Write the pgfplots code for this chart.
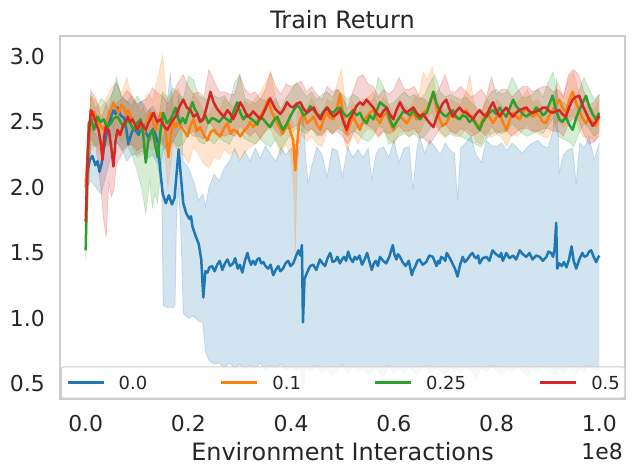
\documentclass[border=0pt]{standalone}
\usepackage{pgfplots}
\pgfplotsset{compat=1.18}
\usepackage{pgfplotstable}
\usepgfplotslibrary{fillbetween}
\usepackage{fontspec}
\setmainfont{DejaVu Sans}
\definecolor{c0}{HTML}{1F77B4}
\definecolor{c1}{HTML}{FF7F0E}
\definecolor{c2}{HTML}{2CA02C}
\definecolor{c3}{HTML}{D62728}
\definecolor{txt}{HTML}{262626}
\definecolor{frame}{HTML}{CCCCCC}

\pgfplotstableread{
x y
0 2.05
0.008 2.21
0.013 2.24
0.019 2.17
0.023 2.20
0.027 2.12
0.031 2.18
0.035 2.29
0.043 2.46
0.048 2.52
0.054 2.59
0.058 2.56
0.062 2.61
0.068 2.55
0.075 2.53
0.079 2.45
0.083 2.33
0.088 2.40
0.093 2.45
0.098 2.43
0.103 2.40
0.108 2.46
0.113 2.48
0.117 2.42
0.122 2.38
0.127 2.42
0.132 2.45
0.136 2.40
0.140 2.35
0.146 2.10
0.150 1.95
0.156 1.88
0.162 1.94
0.168 1.87
0.173 1.92
0.178 2.15
0.181 2.29
0.185 2.10
0.190 1.88
0.196 1.80
0.202 1.76
0.205 1.78
0.208 1.70
0.214 1.63
0.220 1.57
0.225 1.45
0.229 1.16
0.233 1.36
0.237 1.35
0.241 1.39
0.246 1.40
0.251 1.36
0.256 1.41
0.261 1.44
0.266 1.37
0.271 1.42
0.276 1.45
0.281 1.40
0.287 1.42
0.291 1.46
0.296 1.38
0.300 1.41
0.305 1.35
0.310 1.44
0.315 1.50
0.318 1.45
0.322 1.41
0.326 1.44
0.330 1.41
0.334 1.45
0.338 1.46
0.342 1.42
0.346 1.43
0.350 1.40
0.355 1.38
0.360 1.41
0.365 1.33
0.370 1.37
0.375 1.40
0.379 1.36
0.384 1.38
0.389 1.42
0.394 1.44
0.399 1.40
0.404 1.42
0.409 1.47
0.414 1.52
0.418 1.48
0.421 1.56
0.423 0.97
0.426 1.30
0.431 1.35
0.437 1.40
0.443 1.41
0.449 1.37
0.456 1.45
0.461 1.42
0.466 1.40
0.471 1.46
0.476 1.50
0.481 1.43
0.486 1.44
0.490 1.47
0.495 1.42
0.499 1.45
0.503 1.47
0.507 1.44
0.511 1.51
0.515 1.46
0.520 1.43
0.524 1.47
0.528 1.45
0.533 1.48
0.538 1.41
0.543 1.45
0.548 1.50
0.552 1.44
0.557 1.37
0.561 1.42
0.565 1.44
0.569 1.40
0.573 1.47
0.579 1.44
0.585 1.42
0.591 1.47
0.598 1.56
0.601 1.49
0.605 1.45
0.608 1.49
0.612 1.47
0.617 1.43
0.623 1.40
0.629 1.44
0.635 1.33
0.638 1.37
0.642 1.40
0.646 1.44
0.650 1.45
0.656 1.41
0.663 1.43
0.669 1.48
0.676 1.47
0.680 1.43
0.683 1.40
0.686 1.44
0.689 1.42
0.692 1.47
0.696 1.46
0.700 1.44
0.703 1.50
0.709 1.46
0.714 1.42
0.719 1.38
0.724 1.32
0.729 1.41
0.734 1.47
0.738 1.43
0.743 1.45
0.748 1.48
0.753 1.50
0.757 1.47
0.760 1.46
0.764 1.48
0.767 1.42
0.773 1.46
0.780 1.47
0.786 1.44
0.792 1.52
0.799 1.49
0.806 1.47
0.809 1.50
0.812 1.44
0.816 1.47
0.819 1.50
0.825 1.46
0.832 1.48
0.838 1.45
0.845 1.52
0.851 1.49
0.858 1.47
0.864 1.50
0.870 1.45
0.877 1.48
0.884 1.47
0.890 1.44
0.897 1.47
0.901 1.51
0.906 1.50
0.910 1.47
0.913 1.53
0.916 1.73
0.918 1.38
0.922 1.42
0.927 1.40
0.931 1.43
0.936 1.39
0.941 1.45
0.946 1.55
0.950 1.44
0.955 1.38
0.961 1.45
0.967 1.50
0.971 1.47
0.976 1.48
0.980 1.51
0.984 1.52
0.989 1.47
0.994 1.43
0.997 1.46
1.000 1.48
}\meanA

\pgfplotstableread{
x lo hi
0 1.98 2.12
0.01 2.05 2.45
0.02 2.00 2.40
0.03 1.95 2.35
0.04 2.10 2.50
0.05 2.25 2.70
0.06 2.35 2.80
0.07 2.30 2.70
0.08 2.20 2.65
0.09 2.25 2.70
0.10 2.25 2.62
0.11 2.28 2.66
0.12 2.22 2.58
0.13 2.25 2.62
0.14 2.18 2.56
0.148 2.00 2.40
0.151 1.10 2.35
0.16 1.08 2.70
0.165 1.09 2.87
0.17 1.08 2.60
0.174 1.10 2.45
0.177 1.80 2.50
0.181 2.00 2.70
0.186 1.60 2.45
0.19 1.04 2.20
0.20 1.00 2.15
0.21 1.02 2.05
0.22 0.98 1.90
0.228 0.97 1.95
0.233 0.75 1.85
0.24 0.68 2.00
0.25 0.65 2.10
0.26 0.66 2.05
0.27 0.62 2.15
0.28 0.66 2.20
0.29 0.62 2.30
0.30 0.65 2.20
0.31 0.61 2.28
0.32 0.64 2.20
0.33 0.62 2.30
0.34 0.66 2.22
0.35 0.60 2.32
0.36 0.64 2.25
0.37 0.62 2.20
0.38 0.65 2.30
0.39 0.61 2.25
0.40 0.63 2.30
0.41 0.60 2.20
0.418 0.62 2.34
0.423 0.45 2.60
0.428 0.62 2.25
0.433 0.60 2.03
0.44 0.60 2.16
0.45 0.64 2.31
0.46 0.58 2.25
0.47 0.62 2.08
0.48 0.56 2.30
0.49 0.61 2.28
0.50 0.65 2.08
0.51 0.58 2.31
0.52 0.63 2.23
0.53 0.59 2.29
0.54 0.62 2.23
0.55 0.57 2.30
0.557 0.60 2.06
0.565 0.63 2.25
0.57 0.60 2.29
0.58 0.55 2.31
0.59 0.64 2.23
0.60 0.58 2.36
0.61 0.62 2.19
0.62 0.59 2.30
0.63 0.63 2.31
0.637 0.60 1.98
0.645 0.57 2.30
0.65 0.61 2.39
0.66 0.64 2.26
0.67 0.58 2.36
0.68 0.62 2.31
0.69 0.60 2.25
0.70 0.56 2.34
0.71 0.63 2.28
0.718 0.59 2.26
0.724 0.62 1.90
0.73 0.58 2.30
0.74 0.63 2.34
0.75 0.60 2.39
0.76 0.55 2.25
0.77 0.62 2.19
0.78 0.59 2.36
0.79 0.64 2.32
0.80 0.60 2.31
0.81 0.57 2.34
0.82 0.62 2.28
0.83 0.59 2.34
0.84 0.63 2.30
0.85 0.60 2.26
0.86 0.56 2.31
0.87 0.62 2.34
0.88 0.58 2.36
0.89 0.63 2.32
0.90 0.60 2.30
0.91 0.58 2.44
0.917 0.58 2.84
0.922 0.62 2.11
0.93 0.58 2.25
0.94 0.63 2.29
0.948 0.60 2.30
0.955 0.57 2.03
0.962 0.62 2.34
0.97 0.59 2.30
0.98 0.64 2.39
0.99 0.60 2.21
1.00 0.60 2.34
}\bandA

\pgfplotstableread{
x y
0 2.00
0.005 2.35
0.010 2.49
0.016 2.58
0.023 2.52
0.029 2.47
0.035 2.44
0.042 2.52
0.049 2.59
0.054 2.65
0.059 2.60
0.064 2.57
0.069 2.63
0.074 2.61
0.079 2.55
0.083 2.59
0.087 2.55
0.091 2.52
0.096 2.48
0.101 2.44
0.107 2.47
0.113 2.41
0.119 2.50
0.126 2.57
0.131 2.50
0.136 2.44
0.141 2.51
0.146 2.57
0.150 2.50
0.155 2.44
0.158 2.35
0.161 2.23
0.166 2.40
0.171 2.52
0.175 2.46
0.180 2.49
0.185 2.47
0.190 2.44
0.194 2.42
0.198 2.39
0.204 2.47
0.210 2.52
0.216 2.43
0.223 2.46
0.230 2.40
0.237 2.36
0.243 2.42
0.249 2.44
0.255 2.41
0.262 2.39
0.269 2.45
0.276 2.49
0.282 2.41
0.287 2.44
0.294 2.43
0.301 2.39
0.308 2.43
0.315 2.46
0.320 2.50
0.326 2.46
0.333 2.50
0.340 2.54
0.348 2.60
0.355 2.67
0.362 2.58
0.369 2.52
0.376 2.47
0.383 2.41
0.389 2.45
0.394 2.49
0.399 2.42
0.404 2.36
0.408 2.13
0.412 2.34
0.415 2.47
0.418 2.52
0.424 2.56
0.431 2.49
0.437 2.51
0.444 2.54
0.450 2.48
0.457 2.44
0.463 2.52
0.470 2.57
0.476 2.53
0.482 2.52
0.489 2.60
0.495 2.71
0.501 2.56
0.508 2.41
0.514 2.48
0.521 2.54
0.527 2.49
0.534 2.44
0.540 2.50
0.547 2.54
0.553 2.57
0.560 2.59
0.566 2.53
0.573 2.49
0.579 2.55
0.586 2.57
0.592 2.50
0.599 2.44
0.605 2.50
0.612 2.54
0.618 2.52
0.625 2.49
0.631 2.53
0.638 2.57
0.644 2.52
0.651 2.54
0.657 2.57
0.664 2.59
0.670 2.65
0.677 2.73
0.683 2.60
0.689 2.52
0.695 2.47
0.702 2.49
0.708 2.54
0.715 2.57
0.721 2.53
0.728 2.52
0.734 2.56
0.741 2.59
0.747 2.55
0.754 2.54
0.760 2.49
0.767 2.46
0.773 2.52
0.780 2.57
0.786 2.54
0.793 2.49
0.799 2.53
0.806 2.57
0.812 2.50
0.819 2.44
0.825 2.51
0.832 2.57
0.838 2.54
0.845 2.52
0.851 2.57
0.858 2.61
0.864 2.56
0.871 2.54
0.877 2.57
0.884 2.54
0.890 2.50
0.896 2.49
0.903 2.55
0.909 2.59
0.915 2.63
0.922 2.67
0.928 2.61
0.935 2.57
0.941 2.66
0.948 2.73
0.954 2.65
0.961 2.59
0.967 2.53
0.974 2.49
0.980 2.53
0.987 2.50
0.993 2.47
1.000 2.54
}\meanB

\pgfplotstableread{
x lo hi
0 1.95 2.05
0.01 2.28 2.70
0.02 2.33 2.66
0.03 2.24 2.60
0.04 2.31 2.68
0.05 2.38 2.76
0.06 2.41 2.80
0.07 2.35 2.72
0.08 2.38 2.84
0.09 2.31 2.68
0.10 2.23 2.63
0.11 2.25 2.58
0.12 2.33 2.72
0.13 2.28 2.66
0.14 2.33 2.83
0.145 2.38 2.92
0.15 2.33 3.01
0.155 2.23 2.78
0.16 2.00 2.60
0.17 2.33 2.70
0.18 2.28 2.76
0.19 2.25 2.64
0.20 2.18 2.60
0.21 2.31 2.72
0.22 2.25 2.66
0.23 2.18 2.58
0.24 2.15 2.56
0.25 2.23 2.64
0.26 2.21 2.58
0.27 2.29 2.68
0.28 2.25 2.64
0.29 2.28 2.60
0.30 2.21 2.56
0.31 2.27 2.66
0.32 2.31 2.63
0.33 2.33 2.68
0.34 2.38 2.72
0.35 2.43 2.80
0.36 2.45 2.88
0.37 2.35 2.68
0.38 2.25 2.58
0.39 2.33 2.64
0.40 2.23 2.53
0.405 2.00 2.45
0.408 1.50 2.40
0.411 2.05 2.50
0.415 2.33 2.66
0.42 2.41 2.65
0.43 2.35 2.59
0.44 2.39 2.69
0.45 2.33 2.61
0.46 2.31 2.55
0.47 2.43 2.67
0.48 2.41 2.65
0.49 2.45 2.80
0.498 2.48 2.90
0.505 2.33 2.67
0.51 2.28 2.53
0.52 2.41 2.65
0.53 2.33 2.57
0.54 2.41 2.67
0.55 2.45 2.69
0.56 2.43 2.73
0.57 2.38 2.61
0.58 2.43 2.69
0.59 2.37 2.63
0.60 2.33 2.55
0.61 2.41 2.67
0.62 2.43 2.63
0.63 2.38 2.59
0.64 2.43 2.69
0.65 2.41 2.72
0.657 2.48 2.88
0.665 2.53 2.82
0.675 2.58 2.92
0.68 2.48 2.75
0.69 2.41 2.63
0.70 2.38 2.59
0.71 2.43 2.67
0.72 2.41 2.65
0.73 2.39 2.63
0.74 2.45 2.73
0.748 2.43 2.85
0.755 2.41 2.67
0.76 2.35 2.59
0.77 2.33 2.57
0.78 2.43 2.69
0.79 2.38 2.61
0.80 2.41 2.67
0.81 2.38 2.63
0.82 2.31 2.55
0.83 2.41 2.67
0.84 2.39 2.65
0.85 2.43 2.69
0.86 2.48 2.75
0.87 2.43 2.65
0.88 2.41 2.67
0.89 2.39 2.61
0.90 2.38 2.63
0.91 2.45 2.71
0.92 2.51 2.80
0.93 2.45 2.69
0.94 2.53 2.83
0.95 2.55 2.88
0.96 2.45 2.72
0.97 2.38 2.61
0.98 2.39 2.63
0.99 2.35 2.59
1.00 2.41 2.67
}\bandB

\pgfplotstableread{
x y
0 1.52
0.003 2.10
0.006 2.49
0.011 2.52
0.016 2.44
0.020 2.49
0.023 2.54
0.029 2.50
0.035 2.52
0.042 2.46
0.049 2.49
0.055 2.53
0.062 2.54
0.068 2.50
0.074 2.46
0.079 2.50
0.083 2.52
0.088 2.48
0.093 2.44
0.100 2.49
0.107 2.52
0.112 2.40
0.117 2.19
0.122 2.36
0.126 2.41
0.130 2.44
0.135 2.33
0.140 2.23
0.146 2.44
0.151 2.57
0.158 2.49
0.165 2.52
0.170 2.56
0.175 2.61
0.180 2.53
0.184 2.49
0.189 2.53
0.194 2.49
0.201 2.58
0.208 2.65
0.212 2.60
0.217 2.57
0.222 2.51
0.227 2.52
0.233 2.55
0.239 2.49
0.246 2.53
0.252 2.52
0.260 2.50
0.268 2.54
0.275 2.52
0.282 2.50
0.288 2.58
0.295 2.65
0.301 2.57
0.307 2.52
0.314 2.56
0.320 2.53
0.327 2.51
0.334 2.48
0.340 2.54
0.346 2.52
0.352 2.49
0.359 2.46
0.366 2.51
0.373 2.54
0.378 2.49
0.384 2.44
0.391 2.48
0.398 2.54
0.405 2.59
0.412 2.63
0.418 2.60
0.424 2.55
0.431 2.57
0.437 2.62
0.444 2.59
0.450 2.56
0.457 2.54
0.463 2.58
0.470 2.61
0.476 2.58
0.482 2.57
0.489 2.60
0.495 2.61
0.501 2.57
0.508 2.54
0.514 2.56
0.521 2.59
0.527 2.55
0.534 2.57
0.540 2.52
0.547 2.49
0.553 2.55
0.560 2.52
0.566 2.58
0.573 2.65
0.579 2.63
0.586 2.61
0.592 2.52
0.599 2.46
0.605 2.50
0.612 2.54
0.618 2.58
0.625 2.57
0.631 2.55
0.638 2.59
0.644 2.55
0.651 2.52
0.657 2.55
0.664 2.57
0.670 2.64
0.677 2.73
0.683 2.64
0.689 2.59
0.695 2.56
0.702 2.54
0.708 2.57
0.715 2.59
0.721 2.54
0.728 2.52
0.734 2.55
0.741 2.54
0.747 2.50
0.754 2.52
0.760 2.48
0.767 2.44
0.773 2.50
0.780 2.54
0.786 2.57
0.793 2.59
0.799 2.56
0.806 2.61
0.812 2.57
0.819 2.54
0.825 2.60
0.832 2.67
0.838 2.62
0.845 2.59
0.851 2.56
0.858 2.54
0.864 2.56
0.871 2.57
0.877 2.61
0.884 2.59
0.890 2.55
0.896 2.57
0.903 2.64
0.909 2.70
0.915 2.60
0.922 2.52
0.928 2.50
0.935 2.54
0.941 2.48
0.948 2.44
0.954 2.52
0.961 2.59
0.967 2.64
0.974 2.70
0.980 2.62
0.987 2.56
0.993 2.52
1.000 2.57
}\meanC

\pgfplotstableread{
x lo hi
0 1.45 1.60
0.01 2.33 2.70
0.02 2.31 2.60
0.03 2.35 2.68
0.04 2.33 2.64
0.05 2.31 2.70
0.06 2.35 2.84
0.07 2.28 2.68
0.08 2.33 2.66
0.09 2.25 2.62
0.10 2.13 2.70
0.11 1.98 2.64
0.117 1.80 2.55
0.125 2.05 2.60
0.13 1.85 2.56
0.135 1.95 2.53
0.14 1.88 2.48
0.15 2.28 2.73
0.16 2.33 2.68
0.17 2.35 2.76
0.18 2.31 2.72
0.19 2.33 2.68
0.20 2.41 2.85
0.21 2.43 2.82
0.22 2.35 2.70
0.23 2.33 2.68
0.24 2.37 2.66
0.25 2.33 2.70
0.26 2.38 2.68
0.27 2.35 2.70
0.28 2.33 2.64
0.29 2.41 2.80
0.30 2.43 2.86
0.31 2.37 2.68
0.32 2.35 2.66
0.33 2.33 2.64
0.34 2.37 2.68
0.35 2.33 2.66
0.36 2.31 2.62
0.37 2.37 2.68
0.38 2.29 2.60
0.39 2.35 2.68
0.40 2.41 2.74
0.41 2.45 2.80
0.42 2.43 2.75
0.43 2.41 2.69
0.44 2.45 2.73
0.45 2.39 2.67
0.46 2.41 2.71
0.47 2.45 2.73
0.48 2.41 2.69
0.49 2.45 2.75
0.50 2.43 2.71
0.51 2.39 2.67
0.52 2.43 2.71
0.53 2.41 2.69
0.54 2.37 2.63
0.55 2.35 2.65
0.56 2.39 2.67
0.57 2.47 2.84
0.58 2.45 2.77
0.59 2.33 2.63
0.60 2.35 2.65
0.61 2.39 2.69
0.62 2.41 2.73
0.63 2.39 2.69
0.64 2.41 2.71
0.65 2.37 2.67
0.66 2.39 2.71
0.67 2.45 2.80
0.68 2.51 2.86
0.69 2.43 2.73
0.70 2.39 2.69
0.71 2.41 2.71
0.72 2.39 2.69
0.73 2.39 2.67
0.74 2.37 2.69
0.75 2.35 2.65
0.76 2.33 2.61
0.77 2.31 2.57
0.78 2.37 2.67
0.79 2.41 2.73
0.80 2.43 2.75
0.81 2.41 2.71
0.82 2.43 2.73
0.83 2.49 2.84
0.84 2.45 2.77
0.85 2.41 2.69
0.86 2.39 2.69
0.87 2.41 2.71
0.88 2.43 2.75
0.89 2.41 2.69
0.90 2.47 2.80
0.91 2.53 2.88
0.92 2.39 2.67
0.93 2.37 2.65
0.94 2.35 2.61
0.95 2.31 2.59
0.96 2.41 2.73
0.97 2.49 2.84
0.98 2.45 2.75
0.99 2.39 2.67
1.00 2.43 2.71
}\bandC

\pgfplotstableread{
x y
0 1.74
0.005 2.35
0.010 2.59
0.013 2.57
0.016 2.54
0.020 2.49
0.025 2.44
0.029 2.35
0.033 2.21
0.036 2.38
0.039 2.46
0.042 2.43
0.045 2.44
0.050 2.30
0.054 2.16
0.058 2.35
0.062 2.44
0.067 2.40
0.072 2.46
0.077 2.50
0.082 2.54
0.087 2.50
0.091 2.52
0.096 2.48
0.101 2.44
0.107 2.50
0.113 2.46
0.117 2.44
0.122 2.49
0.127 2.53
0.132 2.57
0.139 2.50
0.146 2.52
0.152 2.47
0.159 2.44
0.167 2.50
0.175 2.54
0.183 2.62
0.190 2.67
0.197 2.61
0.204 2.59
0.210 2.54
0.217 2.56
0.223 2.50
0.229 2.52
0.236 2.62
0.243 2.73
0.249 2.65
0.256 2.60
0.262 2.57
0.269 2.54
0.276 2.59
0.282 2.56
0.287 2.52
0.294 2.58
0.301 2.65
0.308 2.60
0.315 2.54
0.320 2.55
0.326 2.58
0.333 2.55
0.340 2.52
0.350 2.60
0.359 2.68
0.369 2.60
0.379 2.56
0.386 2.60
0.392 2.65
0.398 2.62
0.404 2.61
0.411 2.64
0.418 2.65
0.424 2.60
0.431 2.57
0.437 2.59
0.444 2.61
0.450 2.56
0.457 2.52
0.463 2.57
0.470 2.61
0.476 2.57
0.482 2.54
0.489 2.56
0.495 2.59
0.501 2.51
0.508 2.44
0.514 2.52
0.521 2.57
0.527 2.62
0.534 2.65
0.540 2.63
0.547 2.67
0.553 2.64
0.560 2.61
0.566 2.57
0.573 2.54
0.579 2.58
0.586 2.61
0.592 2.56
0.599 2.52
0.605 2.59
0.612 2.65
0.618 2.60
0.625 2.57
0.631 2.59
0.638 2.61
0.644 2.57
0.651 2.54
0.657 2.56
0.664 2.52
0.670 2.49
0.677 2.46
0.683 2.53
0.689 2.59
0.695 2.64
0.702 2.67
0.708 2.60
0.715 2.54
0.721 2.58
0.728 2.61
0.734 2.58
0.741 2.57
0.747 2.55
0.754 2.52
0.760 2.56
0.767 2.59
0.773 2.56
0.780 2.54
0.786 2.60
0.793 2.65
0.799 2.59
0.806 2.54
0.812 2.58
0.819 2.61
0.825 2.57
0.832 2.54
0.838 2.57
0.845 2.59
0.851 2.60
0.858 2.61
0.864 2.58
0.871 2.57
0.877 2.58
0.884 2.59
0.890 2.61
0.896 2.61
0.903 2.58
0.909 2.57
0.915 2.58
0.922 2.59
0.928 2.56
0.935 2.54
0.941 2.61
0.948 2.67
0.954 2.69
0.961 2.70
0.967 2.63
0.974 2.57
0.980 2.52
0.987 2.47
0.993 2.50
1.000 2.55
}\meanD

\pgfplotstableread{
x lo hi
0 1.70 1.80
0.01 2.38 2.74
0.02 2.31 2.68
0.03 1.98 2.53
0.035 1.75 2.58
0.04 1.62 2.64
0.045 2.03 2.58
0.05 1.93 2.53
0.055 1.98 2.45
0.06 2.18 2.64
0.07 2.25 2.68
0.08 2.31 2.74
0.09 2.33 2.70
0.10 2.28 2.64
0.11 2.31 2.66
0.12 2.33 2.68
0.13 2.38 2.76
0.14 2.35 2.72
0.15 2.33 2.70
0.16 2.27 2.64
0.17 2.35 2.72
0.18 2.43 2.80
0.19 2.48 2.86
0.20 2.43 2.77
0.21 2.39 2.71
0.22 2.39 2.73
0.23 2.37 2.69
0.24 2.51 2.90
0.25 2.45 2.81
0.26 2.41 2.73
0.27 2.39 2.73
0.28 2.41 2.71
0.29 2.39 2.71
0.30 2.47 2.86
0.31 2.43 2.75
0.32 2.39 2.71
0.33 2.43 2.73
0.34 2.37 2.67
0.35 2.43 2.75
0.36 2.49 2.88
0.37 2.43 2.77
0.38 2.39 2.71
0.39 2.45 2.79
0.40 2.45 2.77
0.41 2.47 2.79
0.42 2.49 2.81
0.43 2.43 2.73
0.44 2.45 2.77
0.45 2.41 2.71
0.46 2.39 2.67
0.47 2.45 2.77
0.48 2.41 2.73
0.49 2.43 2.75
0.50 2.39 2.69
0.51 2.33 2.60
0.52 2.41 2.73
0.53 2.47 2.84
0.54 2.49 2.86
0.55 2.47 2.79
0.56 2.45 2.77
0.57 2.39 2.69
0.58 2.43 2.75
0.59 2.41 2.71
0.60 2.43 2.75
0.61 2.47 2.84
0.62 2.43 2.75
0.63 2.43 2.75
0.64 2.45 2.77
0.65 2.39 2.69
0.66 2.37 2.67
0.67 2.33 2.63
0.68 2.39 2.69
0.69 2.45 2.77
0.70 2.49 2.86
0.71 2.43 2.73
0.72 2.41 2.73
0.73 2.45 2.77
0.74 2.43 2.73
0.75 2.39 2.69
0.76 2.41 2.71
0.77 2.43 2.75
0.78 2.39 2.69
0.79 2.47 2.84
0.80 2.41 2.71
0.81 2.43 2.75
0.82 2.43 2.75
0.83 2.39 2.69
0.84 2.43 2.73
0.85 2.45 2.77
0.86 2.45 2.77
0.87 2.43 2.73
0.88 2.43 2.75
0.89 2.45 2.77
0.90 2.45 2.77
0.91 2.43 2.73
0.92 2.43 2.75
0.93 2.39 2.69
0.94 2.49 2.86
0.95 2.53 2.90
0.96 2.51 2.86
0.97 2.41 2.73
0.98 2.33 2.63
0.99 2.35 2.65
1.00 2.39 2.71
}\bandD

\begin{document}
\begin{tikzpicture}
\begin{axis}[
  name=ax,
  at={(0,0)}, anchor=south west,
  scale only axis, width=565bp, height=363bp,
  xmin=-0.05, xmax=1.05, ymin=0.385, ymax=3.156,
  axis line style={draw=frame, line width=2bp},
  major tick length=0pt,
  xtick={0,0.2,0.4,0.6,0.8,1.0},
  xticklabels={0.0,0.2,0.4,0.6,0.8,1.0},
  ytick={0.5,1.0,1.5,2.0,2.5,3.0},
  yticklabels={0.5,1.0,1.5,2.0,2.5,3.0},
  /pgf/number format/assume math mode=true,
  tick label style={font=\fontsize{22}{26}\selectfont, text=txt},
  xticklabel style={anchor=north, inner sep=0pt, yshift=-16bp},
  yticklabel style={anchor=east, inner sep=0pt, xshift=-15bp},
  title={Train Return},
  every axis title/.style={at={(axis description cs:0.5,1)}, anchor=base, yshift=7.7bp, font=\fontsize{24}{28}\selectfont, text=txt},
  xlabel={Environment Interactions},
  every axis x label/.style={at={(axis description cs:0.5,0)}, anchor=base, yshift=-61bp, font=\fontsize{24}{28}\selectfont, text=txt},
  legend columns=4,
  legend image code/.code={\draw[line width=2.2bp] (0bp,6.5bp) -- (36bp,6.5bp);},
  legend style={at={(axis description cs:0,0)}, anchor=south west, xshift=1bp, yshift=0.5bp,
    draw=frame, line width=1bp, fill=white, fill opacity=0.8, text opacity=1, rounded corners=2bp,
    inner xsep=5bp, inner ysep=9bp,
    font=\fontsize{18}{21}\selectfont, text=txt,
    nodes={inner sep=0pt, text height=13bp, text depth=0bp, anchor=base west},
    /tikz/every odd column/.append style={column sep=14bp},
    /tikz/every even column/.append style={column sep=73bp}},
]
% blue
\addplot[name path=aU, draw=c0, draw opacity=0.2, line width=0.8bp, forget plot] table[x=x,y=hi] {\bandA};
\addplot[name path=aL, draw=c0, draw opacity=0.2, line width=0.8bp, forget plot] table[x=x,y=lo] {\bandA};
\addplot[fill=c0, fill opacity=0.2, draw=none, forget plot] fill between[of=aU and aL];
\addplot[c0, line width=2.5bp, line join=round] table[x=x,y=y] {\meanA};
\addlegendentry{0.0}
% orange
\addplot[name path=bU, draw=c1, draw opacity=0.2, line width=0.8bp, forget plot] table[x=x,y=hi] {\bandB};
\addplot[name path=bL, draw=c1, draw opacity=0.2, line width=0.8bp, forget plot] table[x=x,y=lo] {\bandB};
\addplot[fill=c1, fill opacity=0.2, draw=none, forget plot] fill between[of=bU and bL];
\addplot[c1, line width=2.5bp, line join=round] table[x=x,y=y] {\meanB};
\addlegendentry{0.1}
% green
\addplot[name path=cU, draw=c2, draw opacity=0.2, line width=0.8bp, forget plot] table[x=x,y=hi] {\bandC};
\addplot[name path=cL, draw=c2, draw opacity=0.2, line width=0.8bp, forget plot] table[x=x,y=lo] {\bandC};
\addplot[fill=c2, fill opacity=0.2, draw=none, forget plot] fill between[of=cU and cL];
\addplot[c2, line width=2.5bp, line join=round] table[x=x,y=y] {\meanC};
\addlegendentry{0.25}
% red
\addplot[name path=dU, draw=c3, draw opacity=0.2, line width=0.8bp, forget plot] table[x=x,y=hi] {\bandD};
\addplot[name path=dL, draw=c3, draw opacity=0.2, line width=0.8bp, forget plot] table[x=x,y=lo] {\bandD};
\addplot[fill=c3, fill opacity=0.2, draw=none, forget plot] fill between[of=dU and dL];
\addplot[c3, line width=2.5bp, line join=round] table[x=x,y=y] {\meanD};
\addlegendentry{0.5}
\end{axis}
\node[anchor=base east, font=\fontsize{22}{26}\selectfont, text=txt, inner sep=0pt, xshift=-2bp, yshift=-60bp] at (ax.south east) {1e8};
\pgfresetboundingbox
\path[use as bounding box] (-60bp,-76bp) rectangle (575bp,399bp);
\end{tikzpicture}
\end{document}
